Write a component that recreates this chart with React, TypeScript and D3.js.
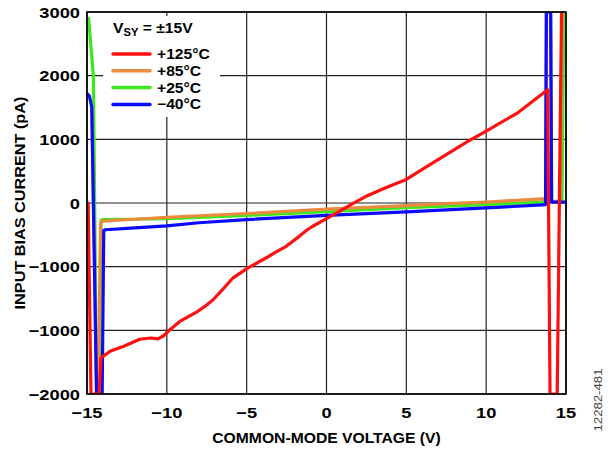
import * as d3 from 'd3';

// axes
const xTicks = [-15, -10, -5, 0, 5, 10, 15];
const xTickLabels = ['−15', '−10', '−5', '0', '5', '10', '15'];
const yTicks = [3000, 2000, 1000, 0, -1000, -2000, -3000];
const yTickLabels = ['3000', '2000', '1000', '0', '−1000', '−1000', '−2000'];

// +125°C
const v125 = [-14.93, -14.75, -14.25, -14.12, -13.56, -12.7, -11.7, -11.0, -10.55, -10.2, -9.92, -9.19, -8.14, -7.6, -7.1, -6.4, -5.85, -4.92, -3.77, -3.1, -2.52, -1.69, -1.2, -0.86, 0.08, 0.81, 1.64, 2.48, 3.7, 5, 6.2, 7.5, 8.8, 10, 12, 13.85, 14.0, 14.45, 14.72];
const i125 = [0, -3000, -3000, -2430, -2330, -2250, -2140, -2120, -2135, -2085, -2015, -1860, -1715, -1620, -1520, -1330, -1175, -1020, -860, -760, -680, -520, -420, -365, -235, -130, -10, 105, 240, 370, 560, 760, 960, 1130, 1420, 1780, -3000, -3000, 3000];

// +85°C
const v85 = [-14.7, -14.4, -14.3, -14.15, -14.05, -12, -10, -8, -5, 0, 5, 7.5, 10, 13.5, 13.72, 13.77, 14.04, 14.1, 14.62, 14.76];
const i85 = [1500, -3000, -3000, -320, -285, -255, -225, -200, -165, -95, -40, -10, 15, 65, 60, 3000, 3000, 15, 15, 3000];

// +25°C
const v25 = [-14.9, -14.6, -14.4, -14.25, -14.12, -14.05, -12, -10, -8, -5, 0, 5, 7.5, 10, 13.5, 13.78, 13.9, 14.0, 14.75, 14.86];
const i25 = [2900, 2000, -3000, -3000, -275, -262, -255, -245, -225, -195, -135, -75, -50, -25, 15, 40, 500, 25, 25, 3000];

// -40°C
const vm40 = [-15, -14.85, -14.7, -14.4, -14.05, -13.95, -13.85, -12, -10, -8, -5, 0, 5, 7.5, 10, 13.5, 13.72, 13.77, 14.04, 14.1, 15];
const im40 = [1720, 1680, 1500, -3000, -3000, -430, -420, -390, -360, -310, -260, -195, -140, -108, -78, -30, -25, 3000, 3000, 15, 15];

const legendLabels = ['+125°C', '+85°C', '+25°C', '−40°C'];
const colors = ['#ff1010', '#ec8a3e', '#3be81e', '#0a0aff'];

const W = 614;
const H = 452;
const M = { left: 87, top: 12, right: 48, bottom: 58 };
const iw = W - M.left - M.right;
const ih = H - M.top - M.bottom;
const FONT = 'Liberation Sans, Arial, Helvetica, sans-serif';

type Pt = [number, number];

export default function App() {
  const x = d3.scaleLinear().domain([-15, 15]).range([0, iw]);
  const y = d3.scaleLinear().domain([-3000, 3000]).range([ih, 0]);
  const line = d3.line<Pt>().x(d => x(d[0])).y(d => y(d[1]));

  const zip = (a: number[], b: number[]): Pt[] => a.map((v, k) => [v, b[k]]);
  // draw order: green, orange, blue, red
  const series = [
    { pts: zip(v25, i25), color: colors[2] },
    { pts: zip(v85, i85), color: colors[1] },
    { pts: zip(vm40, im40), color: colors[3] },
    { pts: zip(v125, i125), color: colors[0] },
  ];

  const tickSx = 1.22;
  const txtSx = 1.12;

  return (
    <div style={{ position: 'absolute', left: 0, top: 0 }}>
      <svg width={W} height={H} style={{ display: 'block', background: '#fff' }} fontFamily={FONT}>
        <defs>
          <clipPath id="plot">
            <rect x={0} y={0} width={iw} height={ih} />
          </clipPath>
        </defs>
        <g transform={`translate(${M.left},${M.top})`}>
          {/* grid */}
          {xTicks.map(t => (
            <line key={'gx' + t} x1={x(t)} x2={x(t)} y1={0} y2={ih} stroke="#222" strokeWidth={1.2} />
          ))}
          {yTicks.map(t => (
            <line key={'gy' + t} x1={0} x2={iw} y1={y(t)} y2={y(t)} stroke="#222" strokeWidth={1.2} />
          ))}

          {/* legend box over the grid */}
          <rect x={16} y={4} width={117} height={101} fill="#fff" />

          {/* curves */}
          <g clipPath="url(#plot)">
            {series.map((s, k) => (
              <path key={k} d={line(s.pts) || ''} fill="none" stroke={s.color} strokeWidth={3.2} strokeLinejoin="round" strokeLinecap="round" />
            ))}
          </g>

          <rect x={0} y={0} width={iw} height={ih} fill="none" stroke="#000" strokeWidth={1.6} />

          {/* tick labels */}
          {yTicks.map((t, k) => (
            <text key={'yl' + t} transform={`translate(-7,${y(t) + 5.5}) scale(${tickSx},1)`} textAnchor="end" fontSize={15} fontWeight="bold">
              {yTickLabels[k]}
            </text>
          ))}
          {xTicks.map((t, k) => (
            <text key={'xl' + t} transform={`translate(${x(t)},${ih + 24}) scale(${tickSx},1)`} textAnchor="middle" fontSize={15} fontWeight="bold">
              {xTickLabels[k]}
            </text>
          ))}

          {/* legend */}
          <text transform={`translate(26,21) scale(${txtSx},1)`} fontSize={14} fontWeight="bold">
            V<tspan fontSize={10} dy={3}>SY</tspan>
            <tspan dy={-3}> = ±15V</tspan>
          </text>
          {legendLabels.map((l, k) => (
            <g key={l} transform={`translate(26,${42 + k * 16.8})`}>
              <line x1={0} x2={37} y1={0} y2={0} stroke={colors[k]} strokeWidth={3.5} strokeLinecap="round" />
              <text transform={`translate(44,5) scale(${txtSx},1)`} fontSize={14} fontWeight="bold">
                {l}
              </text>
            </g>
          ))}
        </g>

        {/* axis titles */}
        <text transform={`translate(${M.left + iw / 2},443) scale(${txtSx},1)`} textAnchor="middle" fontSize={14} fontWeight="bold">
          COMMON-MODE VOLTAGE (V)
        </text>
        <text transform={`translate(25,${M.top + ih / 2}) rotate(-90) scale(1.16,1)`} textAnchor="middle" fontSize={14} fontWeight="bold">
          INPUT BIAS CURRENT (pA)
        </text>
        <text transform={`translate(602,400) rotate(-90) scale(1.2,1)`} textAnchor="middle" fontSize={11} fill="#444">
          12282-481
        </text>
      </svg>
    </div>
  );
}
